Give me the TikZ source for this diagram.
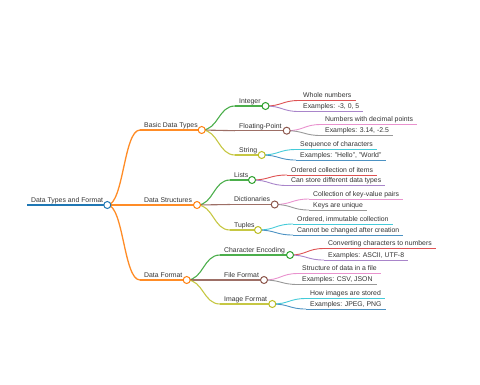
\documentclass[tikz,border=0pt]{standalone}
\usepackage{fontspec}
\setmainfont{Liberation Sans}
\usetikzlibrary{calc}

\definecolor{mmblue}{HTML}{1F77B4}
\definecolor{mmorange}{HTML}{FF7F0E}
\definecolor{mmgreen}{HTML}{2CA02C}
\definecolor{mmred}{HTML}{D62728}
\definecolor{mmpurple}{HTML}{9467BD}
\definecolor{mmbrown}{HTML}{8C564B}
\definecolor{mmpink}{HTML}{E377C2}
\definecolor{mmgray}{HTML}{7F7F7F}
\definecolor{mmolive}{HTML}{BCBD22}
\definecolor{mmcyan}{HTML}{17BECF}
\definecolor{txtgray}{HTML}{333333}

\newcommand{\Rad}{3.5bp}
% horizontal s-curve between two points
\newcommand{\link}[3]{
  \draw[#3] let \p1=(#1), \p2=(#2) in
    (\p1) .. controls ({(\x1+\x2)/2},\y1) and ({(\x1+\x2)/2},\y2) .. (\p2);
}

\begin{document}
\begin{tikzpicture}[x=1bp,y=-1bp,
  lbl/.style={anchor=south west,inner xsep=4bp,inner ysep=2.5bp,text depth=0pt,
    font=\fontsize{6.9}{8}\selectfont,text=txtgray},
  dot/.style={circle,draw,fill=white,inner sep=0pt,minimum size=2*\Rad,line width=1bp},
  lone/.style={line width=1.3bp,opacity=.9},
  ltwo/.style={line width=1.1bp,opacity=.85},
  lthree/.style={line width=.9bp,opacity=.8}]
  \useasboundingbox (0,0) rectangle (480,384);

  % circle centres
  \coordinate (rootc) at (107.3,205);
  \coordinate (bdtc) at (201.7,130);
  \coordinate (dsc) at (197,205);
  \coordinate (dfc) at (186.7,280);
  \coordinate (intc) at (265.5,106);
  \coordinate (fpc) at (286.7,130.7);
  \coordinate (strc) at (261.7,155);
  \coordinate (lstc) at (252,180);
  \coordinate (dicc) at (274.7,204.5);
  \coordinate (tupc) at (258,230);
  \coordinate (cec) at (290,255);
  \coordinate (ffc) at (264,280);
  \coordinate (ifc) at (272.3,304);

  % root
  \node[lbl] (root) at (27,205) {Data Types and Format};
  \draw[mmblue,line width=1.8bp] (root.south west) -- (rootc);

  % first level
  \node[lbl] (bdt) at (140,130) {Basic Data Types};
  \node[lbl] (ds) at (140,205) {Data Structures};
  \node[lbl] (df) at (140,280) {Data Format};
  \foreach \b in {bdt,ds,df}{
    \link{rootc}{\b.south west}{mmorange,lone}
    \draw[mmorange,lone] (\b.south west) -- (\b c);
  }

  % second level
  \node[lbl] (int) at (235,106) {Integer};
  \node[lbl] (fp) at (235,130.7) {Floating-Point};
  \node[lbl] (str) at (235,155) {String};
  \node[lbl] (lst) at (230,180) {Lists};
  \node[lbl] (dic) at (230,204.5) {Dictionaries};
  \node[lbl] (tup) at (230,230) {Tuples};
  \node[lbl] (ce) at (220,255) {Character Encoding};
  \node[lbl] (ff) at (220,280) {File Format};
  \node[lbl] (if) at (220,304) {Image Format};
  \foreach \a/\b/\k in {bdt/int/mmgreen,bdt/fp/mmbrown,bdt/str/mmolive,
                        ds/lst/mmgreen,ds/dic/mmbrown,ds/tup/mmolive,
                        df/ce/mmgreen,df/ff/mmbrown,df/if/mmolive}{
    \link{\a c}{\b.south west}{\k,ltwo}
    \draw[\k,ltwo] (\b.south west) -- (\b c);
  }

  % leaves
  \node[lbl] (wn) at (299,100.5) {Whole numbers};
  \node[lbl] (exint) at (299,111.5) {Examples: -3, 0, 5};
  \node[lbl] (ndp) at (321,124.5) {Numbers with decimal points};
  \node[lbl] (exfp) at (321,135.5) {Examples: 3.14, -2.5};
  \node[lbl] (soc) at (296,149.5) {Sequence of characters};
  \node[lbl] (exstr) at (296,160) {Examples: "Hello", "World"};
  \node[lbl] (oci) at (287,175) {Ordered collection of items};
  \node[lbl] (csd) at (287,185.5) {Can store different data types};
  \node[lbl] (ckv) at (309,199) {Collection of key-value pairs};
  \node[lbl] (kau) at (309,210) {Keys are unique};
  \node[lbl] (oic) at (293,224) {Ordered, immutable collection};
  \node[lbl] (cbc) at (293,235) {Cannot be changed after creation};
  \node[lbl] (ccn) at (324,248.5) {Converting characters to numbers};
  \node[lbl] (exce) at (324,260) {Examples: ASCII, UTF-8};
  \node[lbl] (sdf) at (298,273.5) {Structure of data in a file};
  \node[lbl] (exff) at (298,284.5) {Examples: CSV, JSON};
  \node[lbl] (his) at (306,298.5) {How images are stored};
  \node[lbl] (exif) at (306,309) {Examples: JPEG, PNG};
  \foreach \a/\b/\k in {int/wn/mmred,int/exint/mmpurple,
                        fp/ndp/mmpink,fp/exfp/mmgray,
                        str/soc/mmcyan,str/exstr/mmblue,
                        lst/oci/mmred,lst/csd/mmpurple,
                        dic/ckv/mmpink,dic/kau/mmgray,
                        tup/oic/mmcyan,tup/cbc/mmblue,
                        ce/ccn/mmred,ce/exce/mmpurple,
                        ff/sdf/mmpink,ff/exff/mmgray,
                        if/his/mmcyan,if/exif/mmblue}{
    \link{\a c}{\b.south west}{\k,lthree}
    \draw[\k,lthree] (\b.south west) -- (\b.south east);
  }

  % circles on top
  \node[dot,draw=mmblue] (rootdot) at (rootc) {};
  \foreach \b in {bdt,ds,df}
    \node[dot,draw=mmorange] (\b dot) at (\b c) {};
  \foreach \b/\k in {int/mmgreen,fp/mmbrown,str/mmolive,lst/mmgreen,dic/mmbrown,
                     tup/mmolive,ce/mmgreen,ff/mmbrown,if/mmolive}
    \node[dot,draw=\k] (\b dot) at (\b c) {};
\end{tikzpicture}
\end{document}
